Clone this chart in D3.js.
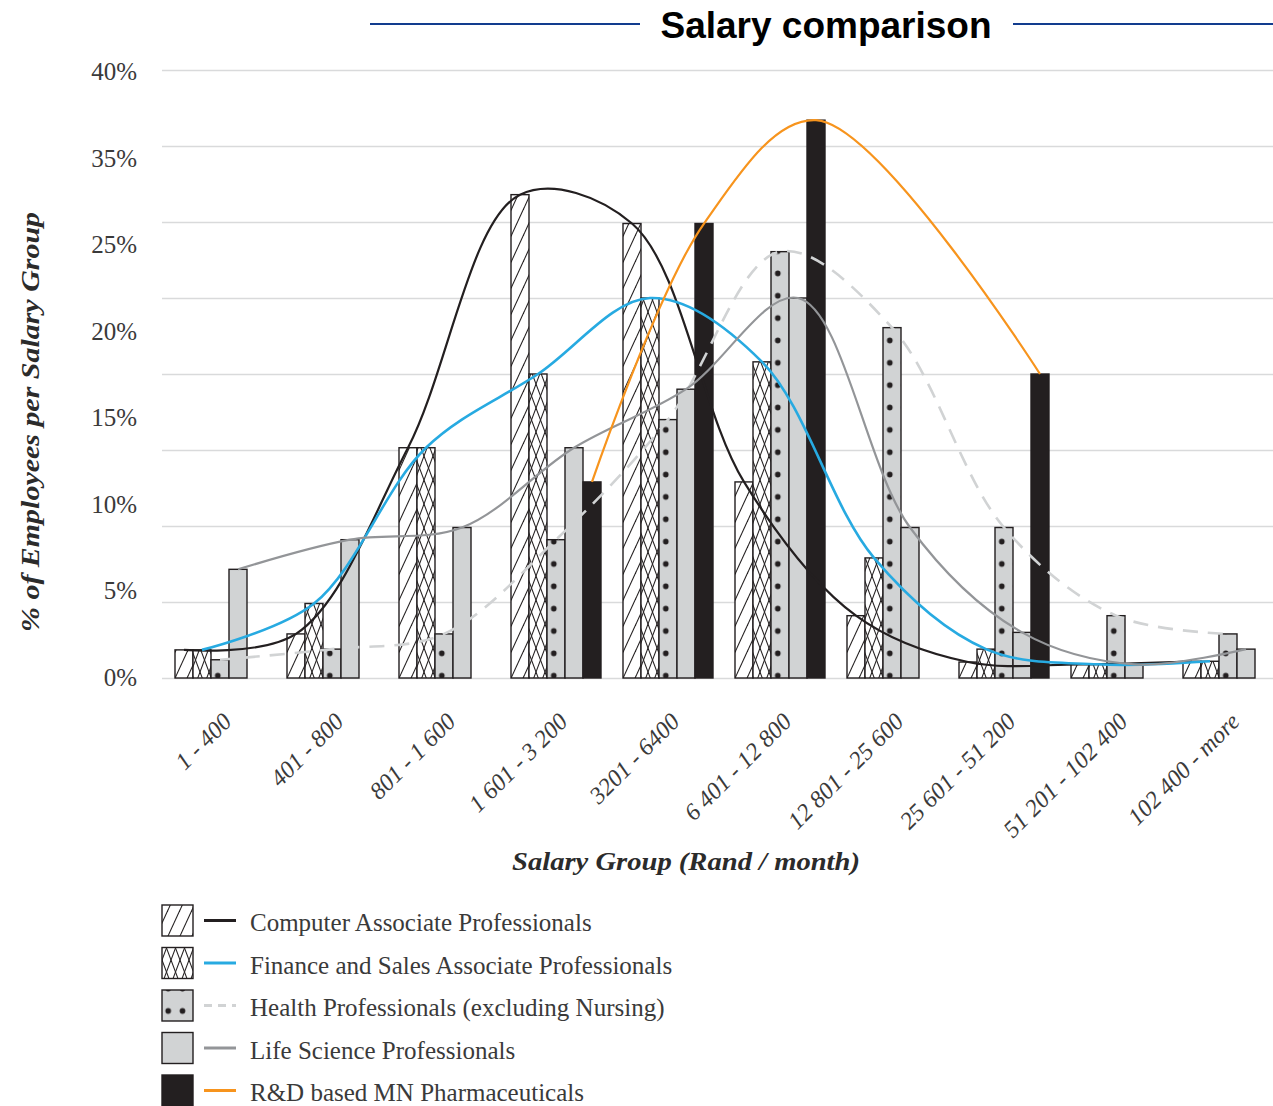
<!DOCTYPE html>
<html>
<head>
<meta charset="utf-8">
<script src="https://cdn.jsdelivr.net/npm/d3@7"></script>
<style>
  body { margin: 0; background: #fff; }
  svg { display: block; }
</style>
</head>
<body>
<svg id="chart" width="1273" height="1106"></svg>
<script>
// ---- data ----
const categories = ['1 - 400', '401 - 800', '801 - 1 600', '1 601 - 3 200', '3201 - 6400',
  '6 401 - 12 800', '12 801 - 25 600', '25 601 - 51 200', '51 201 - 102 400', '102 400 - more'];

const seriesNames = [
  'Computer Associate Professionals',
  'Finance and Sales Associate Professionals',
  'Health Professionals (excluding Nursing)',
  'Life Science Professionals',
  'R&D based MN Pharmaceuticals'
];

const computerVals = [1.85, 2.9, 15.15, 31.8, 29.9, 12.9, 4.1, 1.05, 0.9, 1.1];
const financeVals = [1.85, 4.9, 15.15, 20.0, 25.0, 20.8, 7.9, 1.9, 0.9, 1.1];
const healthVals = [1.2, 1.9, 2.9, 9.1, 17.0, 28.05, 23.05, 9.9, 4.1, 2.9];
const lifeVals = [7.15, 9.1, 9.9, 15.15, 19.0, 25.0, 9.9, 3.0, 0.9, 1.9];
const rndVals = [null, null, null, 12.9, 29.9, 36.7, null, 20.0, null, null];

const gridTicks = [0, 5, 10, 15, 20, 25, 30, 35, 40];
const yTickLabels = ['40%', '35%', '25%', '20%', '15%', '10%', '5%', '0%'];

// ---- styles ----
const keys = ['comp', 'fin', 'health', 'life', 'rnd'];
const allVals = [computerVals, financeVals, healthVals, lifeVals, rndVals];
const barFill = {
  comp: 'url(#hatch)', fin: 'url(#cross)', health: 'url(#dots)', life: '#d1d3d4', rnd: '#231f20'
};
const lineStyle = {
  comp: { color: '#231f20', w: 2.2, dash: null },
  fin: { color: '#27aae1', w: 2.6, dash: null },
  health: { color: '#d1d3d4', w: 2.6, dash: '15,10' },
  life: { color: '#939598', w: 2.2, dash: null },
  rnd: { color: '#f7941d', w: 2.2, dash: null }
};

const svg = d3.select('#chart');
const W = 1273;

// ---- patterns ----
const defs = svg.append('defs');

function linePattern(id, w, h, segs, bg) {
  const p = defs.append('pattern')
    .attr('id', id)
    .attr('patternUnits', 'userSpaceOnUse')
    .attr('width', w).attr('height', h);
  p.append('rect').attr('width', w).attr('height', h).attr('fill', bg);
  [-w, 0, w].forEach((dx) => {
    segs.forEach((s) => {
      p.append('line')
        .attr('x1', s[0] + dx).attr('y1', s[1])
        .attr('x2', s[2] + dx).attr('y2', s[3])
        .attr('stroke', '#231f20').attr('stroke-width', 1.1);
    });
  });
}
// single "/" hatch
linePattern('hatch', 12, 26, [[-6, 39, 18, -13]], '#fff');
// double diagonal cross hatch
linePattern('cross', 9, 24, [[-4.5, -12, 13.5, 36], [-4.5, 36, 13.5, -12]], '#fff');

const dotP = defs.append('pattern')
  .attr('id', 'dots')
  .attr('patternUnits', 'userSpaceOnUse')
  .attr('x', 547.15).attr('y', 552.8)
  .attr('width', 14.3).attr('height', 22.35);
dotP.append('rect').attr('width', 14.3).attr('height', 22.35).attr('fill', '#d1d3d4');
dotP.append('circle').attr('cx', 7.15).attr('cy', 11.175).attr('r', 2.8).attr('fill', '#231f20');

// ---- scales ----
const x0 = d3.scaleBand().domain(categories).range([164, 1284]);
const x1 = d3.scaleBand().domain(keys).range([11, 101]);
const y = d3.scaleLinear().domain([0, 40]).range([678, 70]);
const yLab = d3.scalePoint().domain(yTickLabels).range([71.5, 677.5]);

// ---- title ----
svg.append('line').attr('x1', 370).attr('x2', 640).attr('y1', 24).attr('y2', 24)
  .attr('stroke', '#123c8e').attr('stroke-width', 2.2);
svg.append('line').attr('x1', 1013).attr('x2', W).attr('y1', 24).attr('y2', 24)
  .attr('stroke', '#123c8e').attr('stroke-width', 2.2);
svg.append('text')
  .attr('x', 826).attr('y', 38)
  .attr('text-anchor', 'middle')
  .style('font-family', '"Liberation Sans", Arial, sans-serif')
  .style('font-weight', 'bold')
  .style('font-size', '37px')
  .attr('fill', '#000')
  .text('Salary comparison');

// ---- gridlines ----
svg.append('g')
  .attr('transform', 'translate(162,0)')
  .call(d3.axisLeft(y).tickValues(gridTicks).tickSize(-(W - 162)).tickFormat(''))
  .call((g) => g.select('.domain').remove())
  .call((g) => g.selectAll('line').attr('stroke', '#d9dadb').attr('stroke-width', 1.6));

// ---- y labels ----
svg.append('g')
  .attr('transform', 'translate(137,0)')
  .call(d3.axisLeft(yLab).tickSize(0).tickPadding(0))
  .call((g) => g.select('.domain').remove())
  .call((g) => g.selectAll('text')
    .style('font-family', '"Liberation Serif", "Times New Roman", serif')
    .style('font-size', '25px')
    .attr('fill', '#3a3a3a'));

// ---- bars ----
const groups = svg.append('g').selectAll('g')
  .data(categories)
  .enter().append('g')
  .attr('transform', (d) => `translate(${x0(d)},0)`);

groups.selectAll('rect')
  .data((d, i) => keys.map((k, j) => ({ key: k, value: allVals[j][i] })).filter((d) => d.value != null))
  .enter().append('rect')
  .attr('x', (d) => x1(d.key))
  .attr('y', (d) => y(d.value))
  .attr('width', x1.bandwidth())
  .attr('height', (d) => y(0) - y(d.value))
  .attr('fill', (d) => barFill[d.key])
  .attr('stroke', '#231f20')
  .attr('stroke-width', 1.4);

// ---- smoothed lines ----
const line = d3.line()
  .x((d) => d.x)
  .y((d) => y(d.v))
  .curve(d3.curveCatmullRom.alpha(0.5));

keys.forEach((k, j) => {
  const pts = categories
    .map((c, i) => ({ x: x0(c) + x1(k) + x1.bandwidth() / 2, v: allVals[j][i] }))
    .filter((d) => d.v != null);
  const st = lineStyle[k];
  svg.append('path')
    .attr('d', line(pts))
    .attr('fill', 'none')
    .attr('stroke', st.color)
    .attr('stroke-width', st.w)
    .attr('stroke-dasharray', st.dash)
    .attr('stroke-linecap', 'butt');
});

// ---- x labels ----
svg.append('g')
  .attr('transform', 'translate(0,690)')
  .call(d3.axisBottom(x0).tickSize(0).tickPadding(0))
  .call((g) => g.select('.domain').remove())
  .call((g) => g.selectAll('text')
    .attr('y', 0).attr('dy', 0)
    .attr('transform', 'translate(13,33) rotate(-45)')
    .attr('text-anchor', 'end')
    .style('font-family', '"Liberation Serif", "Times New Roman", serif')
    .style('font-style', 'italic')
    .style('font-size', '24px')
    .attr('fill', '#3a3a3a'));

// ---- axis titles ----
svg.append('text')
  .attr('x', 512).attr('y', 870)
  .attr('textLength', 348).attr('lengthAdjust', 'spacingAndGlyphs')
  .style('font-family', '"Liberation Serif", "Times New Roman", serif')
  .style('font-style', 'italic').style('font-weight', 'bold')
  .style('font-size', '25px')
  .attr('fill', '#2b2b2b')
  .text('Salary Group (Rand / month)');

svg.append('text')
  .attr('transform', 'translate(39,632) rotate(-90)')
  .attr('textLength', 420).attr('lengthAdjust', 'spacingAndGlyphs')
  .style('font-family', '"Liberation Serif", "Times New Roman", serif')
  .style('font-style', 'italic').style('font-weight', 'bold')
  .style('font-size', '25px')
  .attr('fill', '#2b2b2b')
  .text('% of Employees per Salary Group');

// ---- legend ----
const legend = svg.append('g');
keys.forEach((k, i) => {
  const top = 905 + i * 42.5;
  legend.append('rect')
    .attr('x', 162).attr('y', top).attr('width', 31).attr('height', 31)
    .attr('fill', barFill[k]).attr('stroke', '#231f20').attr('stroke-width', 1.4);
  const st = lineStyle[k];
  legend.append('line')
    .attr('x1', 204).attr('x2', 236).attr('y1', top + 15.5).attr('y2', top + 15.5)
    .attr('stroke', st.color).attr('stroke-width', 3)
    .attr('stroke-dasharray', st.dash ? '8,6' : null);
  legend.append('text')
    .attr('x', 250).attr('y', top + 26)
    .style('font-family', '"Liberation Serif", "Times New Roman", serif')
    .style('font-size', '25px')
    .attr('fill', '#3a3a3a')
    .text(seriesNames[i]);
});
</script>
</body>
</html>
